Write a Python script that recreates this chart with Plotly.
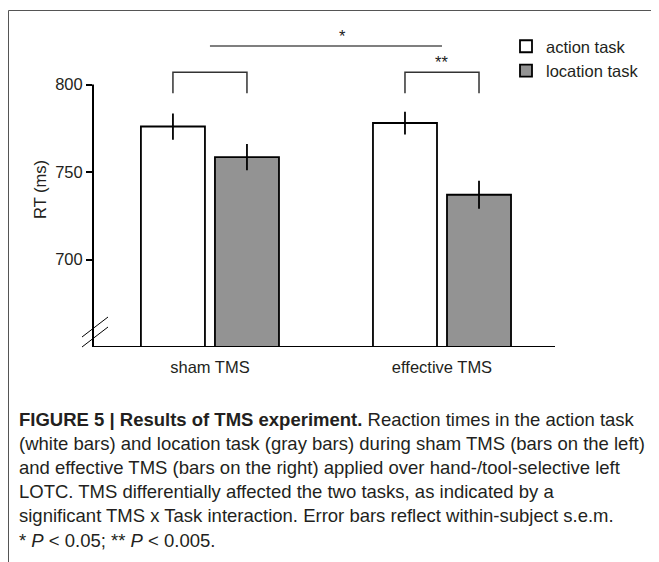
import plotly.graph_objects as go

# ---- data ----
conditions = ["sham TMS", "effective TMS"]
series_names = ["action task", "location task"]
action_rt = [776, 778]
action_sem = [7.5, 6.5]
location_rt = [758.5, 737]
location_sem = [7.5, 8]
y_ticks = [700, 750, 800]
y_range = [650, 830]

caption_lines = [
    "<b>FIGURE 5 | Results of TMS experiment.</b> Reaction times in the action task",
    "(white bars) and location task (gray bars) during sham TMS (bars on the left)",
    "and effective TMS (bars on the right) applied over hand-/tool-selective left",
    "LOTC. TMS differentially affected the two tasks, as indicated by a",
    "significant TMS x Task interaction. Error bars reflect within-subject s.e.m.",
    "* <i>P</i> &lt; 0.05; ** <i>P</i> &lt; 0.005.",
]

FONT = "Liberation Sans, Arial, Helvetica, sans-serif"
OFF = 8  # page body margin in the browser
W, H = 659 - OFF, 562 - OFF
ML, MT = 93 - OFF, 32 - OFF
MR, MB = 104, 215
PW = W - ML - MR
PH = H - MT - MB

bargap = 0.362
offset = (1 - bargap) / 4  # centre offset of each bar within a group

fig = go.Figure()
fig.add_trace(go.Bar(
    x=conditions, y=action_rt, name=series_names[0],
    marker=dict(color="white", line=dict(color="black", width=1.8)),
    error_y=dict(type="data", array=action_sem, width=0, thickness=1.8, color="black"),
))
fig.add_trace(go.Bar(
    x=conditions, y=location_rt, name=series_names[1],
    marker=dict(color="#939393", line=dict(color="black", width=1.8)),
    error_y=dict(type="data", array=location_sem, width=0, thickness=1.8, color="black"),
))


def px2paper_x(px):
    # px: page coordinate
    return (px - OFF - ML) / PW


def px2paper_y(py):
    return (H - MB - (py - OFF)) / PH


shapes = []
# y-axis line from bottom up to last tick
shapes.append(dict(type="line", xref="paper", yref="y", x0=0, x1=0,
                   y0=y_range[0], y1=y_ticks[-1], line=dict(color="black", width=2)))
# x-axis line
shapes.append(dict(type="line", xref="paper", yref="y", x0=0, x1=1,
                   y0=y_range[0], y1=y_range[0], line=dict(color="black", width=2)))
# axis break marks
for dy in (0, 10):
    shapes.append(dict(type="line", xref="paper", yref="paper",
                       x0=px2paper_x(82), x1=px2paper_x(108),
                       y0=px2paper_y(347 - dy), y1=px2paper_y(327 - dy),
                       line=dict(color="black", width=1)))
# significance brackets within each condition
br_top, br_bot = 807, 795
for i in range(len(conditions)):
    xl, xr = i - offset, i + offset
    shapes.append(dict(type="path", xref="x", yref="y",
                       path=f"M {xl},{br_bot} L {xl},{br_top} L {xr},{br_top} L {xr},{br_bot}",
                       line=dict(color="#333333", width=1.5)))
# interaction line
shapes.append(dict(type="line", xref="x", yref="y", x0=0, x1=1, y0=822, y1=822,
                   line=dict(color="#555555", width=1.5)))
# frame (top and left border)
shapes.append(dict(type="line", xref="paper", yref="paper",
                   x0=px2paper_x(8.5), x1=px2paper_x(670),
                   y0=px2paper_y(10.5), y1=px2paper_y(10.5), line=dict(color="#555555", width=1)))
shapes.append(dict(type="line", xref="paper", yref="paper",
                   x0=px2paper_x(8.5), x1=px2paper_x(8.5),
                   y0=px2paper_y(10.5), y1=px2paper_y(580), line=dict(color="#555555", width=1)))

annotations = []
annotations.append(dict(text="*", x=0.57, y=828, xref="x", yref="y", showarrow=False,
                        font=dict(size=16.5, color="#222", family=FONT)))
annotations.append(dict(text="**", x=1, y=812.8, xref="x", yref="y", showarrow=False,
                        font=dict(size=16.5, color="#222", family=FONT)))

for k, line in enumerate(caption_lines):
    annotations.append(dict(text=line, xref="paper", yref="paper",
                            x=px2paper_x(17), y=px2paper_y(419 + 24.2 * k),
                            xanchor="left", yanchor="middle", showarrow=False, align="left",
                            font=dict(size=18.5, color="#231f20", family=FONT)))

fig.update_layout(
    width=W, height=H,
    margin=dict(l=ML, r=MR, t=MT, b=MB, pad=0),
    paper_bgcolor="white", plot_bgcolor="white",
    font=dict(family=FONT, size=16.5, color="#231f20"),
    barmode="group", bargap=bargap, bargroupgap=0.135,
    showlegend=True,
    legend=dict(x=px2paper_x(506), y=px2paper_y(29), xanchor="left", yanchor="top",
                bgcolor="rgba(0,0,0,0)", font=dict(size=16.5, family=FONT),
                itemwidth=30, tracegroupgap=0),
    xaxis=dict(range=[-0.504, 1.487], showline=False, showgrid=False, zeroline=False,
               ticks="", tickfont=dict(size=16.5), ticklabelstandoff=8),
    yaxis=dict(range=y_range, tickvals=y_ticks, ticks="outside", ticklen=6, tickwidth=1.5,
               tickcolor="black", showline=False, showgrid=False, zeroline=False,
               tickfont=dict(size=16.5),
               title=dict(text="RT (ms)", standoff=4, font=dict(size=16.5))),
    shapes=shapes,
    annotations=annotations,
)

fig.write_html("out.html")
